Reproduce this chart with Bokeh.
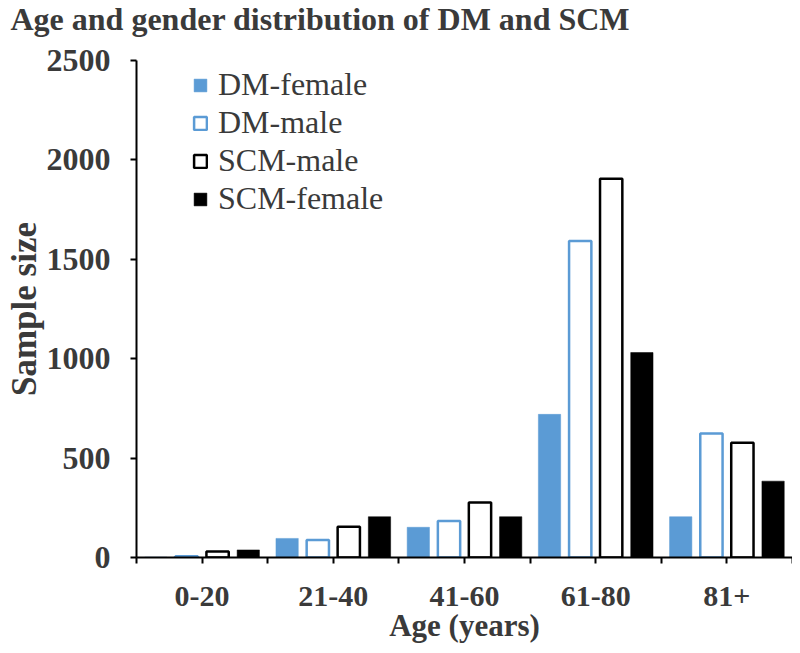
from bokeh.plotting import figure
from bokeh.models import FixedTicker, Legend, LegendItem, ColumnDataSource, Title
from bokeh.embed import file_html
from bokeh.resources import INLINE

categories = ["0-20", "21-40", "41-60", "61-80", "81+"]
series_names = ["DM-female", "DM-male", "SCM-male", "SCM-female"]
dm_female = [2, 96, 152, 720, 205]
dm_male = [6, 88, 183, 1592, 624]
scm_male = [30, 155, 277, 1905, 577]
scm_female = [38, 205, 205, 1031, 384]
y_ticks = [0, 500, 1000, 1500, 2000, 2500]

series_values = [dm_female, dm_male, scm_male, scm_female]
offsets = [-0.352, -0.118, 0.118, 0.352]
BLUE = "#5b9bd5"
styles = [
    dict(fill_color=BLUE, line_color=BLUE, line_width=0.5),
    dict(fill_color="white", line_color=BLUE, line_width=2.5),
    dict(fill_color="white", line_color="black", line_width=2.5),
    dict(fill_color="black", line_color="black", line_width=0.5),
]

SERIF = "Liberation Serif"
TXT = "#3a3a3a"

p = figure(width=792, height=645, x_range=(0, len(categories)), y_range=(0, 2500),
           output_backend="svg", toolbar_location=None, title=None,
           min_border_left=136, min_border_right=0, min_border_top=60, min_border_bottom=88)
p.outline_line_color = None
p.xgrid.grid_line_color = None
p.ygrid.grid_line_color = None

# blank spacer between frame and title (first added sits nearest the frame)
p.add_layout(Title(text=" ", text_font_size="14px", standoff=4, text_color="white"), "above")
p.add_layout(Title(text="Age and gender distribution of DM and SCM", text_font=SERIF,
                   text_font_style="bold", text_font_size="32px", text_color=TXT,
                   align="left", vertical_align="top", offset=-126, standoff=0), "above")

centers = [i + 0.5 for i in range(len(categories))]
items = []
for name, vals, off, st in zip(series_names, series_values, offsets, styles):
    src = ColumnDataSource(dict(x=[c + off for c in centers], top=vals))
    r = p.vbar(x="x", top="top", bottom=0, width=0.17, source=src, **st)
    items.append(LegendItem(label=name, renderers=[r]))

# x axis
xa = p.xaxis[0]
xa.ticker = FixedTicker(ticks=centers, minor_ticks=list(range(len(categories) + 1)))
xa.major_label_overrides = {c: lab for c, lab in zip(centers, categories)}
xa.axis_line_width = 2
xa.axis_line_color = "black"
xa.major_tick_line_width = 2
xa.minor_tick_line_width = 2
xa.major_tick_out = 6
xa.major_tick_in = 0
xa.minor_tick_out = 6
xa.minor_tick_in = 0
xa.major_label_text_font = SERIF
xa.major_label_text_font_style = "bold"
xa.major_label_text_font_size = "30px"
xa.major_label_text_color = TXT
xa.major_label_standoff = 23
xa.axis_label = "Age (years)"
xa.axis_label_text_font = SERIF
xa.axis_label_text_font_style = "bold"
xa.axis_label_text_font_size = "31px"
xa.axis_label_text_color = TXT
xa.axis_label_standoff = -1

# y axis
ya = p.yaxis[0]
ya.ticker = FixedTicker(ticks=y_ticks)
ya.axis_line_width = 2
ya.axis_line_color = "black"
ya.major_tick_line_width = 2
ya.major_tick_out = 6
ya.major_tick_in = 0
ya.minor_tick_out = 0
ya.minor_tick_in = 0
ya.major_label_text_font = SERIF
ya.major_label_text_font_style = "bold"
ya.major_label_text_font_size = "32px"
ya.major_label_text_color = TXT
ya.major_label_standoff = 20
ya.axis_label = "Sample size"
ya.axis_label_text_font = SERIF
ya.axis_label_text_font_style = "bold"
ya.axis_label_text_font_size = "35px"
ya.axis_label_text_color = TXT
ya.axis_label_standoff = 0

legend = Legend(items=items, location=(56, 340), orientation="vertical",
                glyph_width=16, glyph_height=16, label_standoff=10, spacing=1,
                padding=0, margin=0, border_line_color=None, background_fill_alpha=0,
                label_text_font=SERIF, label_text_font_size="32px", label_text_color=TXT)
p.add_layout(legend)

open("out.html", "w").write(file_html(p, INLINE))
